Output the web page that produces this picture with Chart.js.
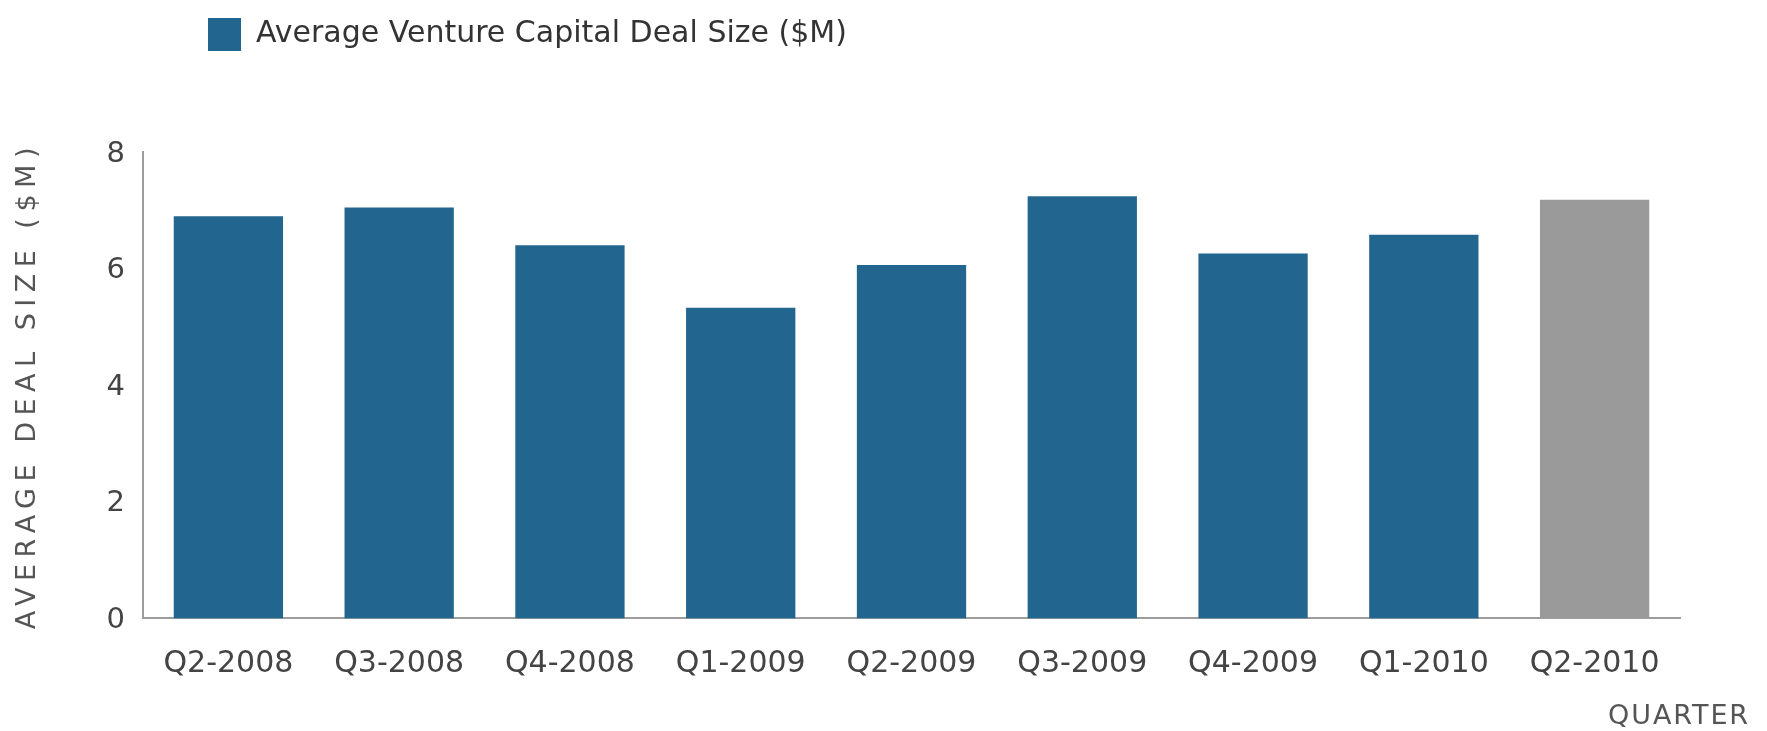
<!DOCTYPE html>
<html>
<head>
<meta charset="utf-8">
<title>Average Venture Capital Deal Size</title>
<script src="https://cdn.jsdelivr.net/npm/chart.js@4.4.1/dist/chart.umd.min.js"></script>
<style>
  html, body { margin: 0; padding: 0; background: #ffffff; }
  #wrap { width: 1767px; height: 731px; }
</style>
</head>
<body>
<div id="wrap"><canvas id="chart" width="1767" height="731"></canvas></div>
<script>
// Quarterly average deal size, $M
const quarters = ['Q2-2008', 'Q3-2008', 'Q4-2008', 'Q1-2009', 'Q2-2009', 'Q3-2009', 'Q4-2009', 'Q1-2010', 'Q2-2010'];
const avgDealSize = [6.9, 7.05, 6.4, 5.33, 6.06, 7.24, 6.26, 6.58, 7.18];
const yTickValues = [0, 2, 4, 6, 8];

const seriesLabel = 'Average Venture Capital Deal Size ($M)';
const yTitle = 'AVERAGE DEAL SIZE ($M)';
const xTitle = 'QUARTER';

const BLUE = '#22658f';
const GRAY = '#9a9a9a';
const AXIS = '#9c9c9c';
const FONT = "'DejaVu Sans', sans-serif";
const latestQuarter = quarters[quarters.length - 1];

// Wrap a text-drawing method so it renders with extra letter spacing.
function spaced(target, method, spacing) {
  if (!target || target[method].__spaced) return;
  const orig = target[method];
  const wrapped = function (...args) {
    const ctx = this.ctx;
    const prev = ctx.letterSpacing;
    ctx.letterSpacing = spacing;
    try { return orig.apply(this, args); } finally { ctx.letterSpacing = prev; }
  };
  wrapped.__spaced = true;
  target[method] = wrapped;
}

// Places the legend in the top-left corner and the axis caption at the bottom right.
const placeBoxes = {
  id: 'placeBoxes',
  afterLayout(chart, _args, opts) {
    const legend = chart.legend;
    if (legend && opts.legendAt) {
      const dx = opts.legendAt.x - legend.left;
      const dy = opts.legendAt.y - legend.top;
      legend.left += dx; legend.right += dx;
      legend.top += dy; legend.bottom += dy;
    }
    const caption = chart.titleBlock;
    if (caption && opts.captionAt) {
      const dx = opts.captionAt.right - caption.right;
      const dy = opts.captionAt.centerY - (caption.top + caption.bottom) / 2;
      caption.left += dx; caption.right += dx;
      caption.top += dy; caption.bottom += dy;
    }
    spaced(chart.scales.y, 'drawTitle', opts.yTitleSpacing);
    spaced(caption, 'draw', opts.captionSpacing);
  }
};

new Chart(document.getElementById('chart'), {
  type: 'bar',
  data: {
    labels: quarters,
    datasets: [{
      label: seriesLabel,
      data: avgDealSize,
      backgroundColor: (c) => (c.type === 'data' && quarters[c.dataIndex] === latestQuarter) ? GRAY : BLUE,
      borderWidth: 0,
      barPercentage: 0.64,
      categoryPercentage: 1.0
    }]
  },
  plugins: [placeBoxes],
  options: {
    responsive: false,
    animation: false,
    events: [],
    layout: { padding: { left: 0, right: 87, top: 99, bottom: 0 } },
    scales: {
      x: {
        grid: { display: false, drawTicks: false },
        border: { display: true, color: AXIS, width: 2 },
        ticks: { color: '#444444', font: { family: FONT, size: 30 }, padding: 27.5, maxRotation: 0, autoSkip: false }
      },
      y: {
        min: 0,
        max: 8,
        afterFit: (scale) => { scale.width = 143; },
        afterBuildTicks: (scale) => { scale.ticks = yTickValues.map(v => ({ value: v })); },
        grid: { display: false, drawTicks: false },
        border: { display: true, color: AXIS, width: 2 },
        ticks: { color: '#444444', font: { family: FONT, size: 29 }, padding: 18, labelOffset: 2 },
        title: {
          display: true,
          text: yTitle,
          color: '#555555',
          font: { family: FONT, size: 27 },
          padding: { top: 12, bottom: 0 }
        }
      }
    },
    plugins: {
      legend: {
        display: true,
        position: 'top',
        align: 'start',
        labels: {
          boxWidth: 33,
          boxHeight: 33,
          padding: 10,
          color: '#333333',
          font: { family: FONT, size: 30 }
        }
      },
      title: {
        display: true,
        position: 'bottom',
        align: 'end',
        text: xTitle,
        color: '#555555',
        font: { family: FONT, size: 27, weight: 'normal', lineHeight: 0.8 },
        padding: 0
      },
      tooltip: { enabled: false },
      placeBoxes: {
        legendAt: { x: 198, y: 8 },
        captionAt: { right: 1750, centerY: 717 },
        yTitleSpacing: '6.5px',
        captionSpacing: '1.9px'
      }
    }
  }
});
</script>
</body>
</html>
